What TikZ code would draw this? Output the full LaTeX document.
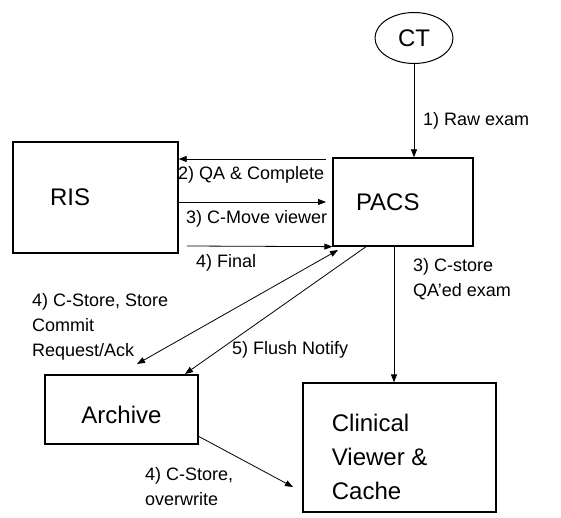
\documentclass[tikz,border=0pt]{standalone}
\usepackage{fontspec}
\setmainfont{Liberation Sans}
\usetikzlibrary{arrows.meta}
\usetikzlibrary{positioning}
\usetikzlibrary{shapes.geometric}
\tikzset{box/.style = {draw, line width=1.3pt, rectangle, inner ysep=0pt,
                       font=\fontsize{24}{34}\selectfont},
         flow/.style = {line width=0.8pt, -{Triangle[length=8pt,width=6pt]}},
         tag/.style = {inner sep=0pt, align=left, anchor=west,
                       font=\fontsize{18}{25}\selectfont}}

\begin{document}
\begin{tikzpicture}[x=1pt, y=-1pt]
    \useasboundingbox (0, 0) rectangle (561, 518);

    \node [draw, line width=1pt, ellipse, minimum width=78pt, minimum height=51pt,
           inner sep=0pt, font=\fontsize{24}{28}\selectfont] (ct) at (414, 38) {CT};
    \node [box, minimum width=140pt, minimum height=88pt, text width=94pt,
           inner xsep=23pt, align=left] (pacs) at (403, 202) {PACS};
    \node [box, minimum width=165pt, minimum height=111pt, text width=91pt,
           inner xsep=37pt, align=left] (ris) at (95.5, 197.5) {RIS};
    \node [box, minimum width=153pt, minimum height=69pt, text height=28pt,
           text depth=0pt] (archive) at (121.5, 409.5) {Archive};
    \node [box, minimum width=193pt, minimum height=129pt,
           label={[font=\fontsize{24}{34}\selectfont, align=left, anchor=west,
                   xshift=26pt, yshift=-9pt]west:Clinical\\Viewer \&\\Cache}]
           (viewer) at (399.5, 447.5) {};

    % free ends of the connectors
    \coordinate (qa) at (326, 159);
    \coordinate (move) at (326, 202);
    \coordinate (final) at (187, 246);
    \coordinate (commit) at (137, 364);
    \coordinate (commitend) at (338, 250);
    \coordinate (flush) at (367, 246);
    \coordinate (flushend) at (185, 374);
    \coordinate (cstore) at (394, 246);
    \coordinate (overwrite) at (198, 436);
    \coordinate (overwriteend) at (293, 487);

    \draw [flow] (ct.south) -- (ct.south |- pacs.north);
    \draw [flow] (qa) -- (qa -| ris.east);
    \draw [flow] (move -| ris.east) -- (move);
    \draw [flow] (final) -- (pacs.south west);
    \draw [flow, {Triangle[length=8pt,width=6pt]}-{Triangle[length=8pt,width=6pt]}] (commitend) -- (commit);
    \draw [flow] (flush) -- (flushend);
    \draw [flow] (cstore) -- (cstore |- viewer.north);
    \draw [flow] (overwrite) -- (overwriteend);

    \node [tag] (rawlbl) at (423, 121) {1) Raw exam};
    \node [tag] (qalbl) at (178, 175) {2) QA \& Complete};
    \node [tag] (movelbl) at (186, 219) {3) C-Move viewer};
    \node [tag] (finallbl) at (196, 263) {4) Final};
    \node [tag, anchor=north west] (cstorelbl) at (413, 258) {3) C-store\\QA'ed exam};
    \node [tag, anchor=north west] (commitlbl) at (32, 293) {4) C-Store, Store\\Commit\\Request/Ack};
    \node [tag] (flushlbl) at (232, 350) {5) Flush Notify};
    \node [tag, anchor=north west] (overwritelbl) at (145, 467) {4) C-Store,\\overwrite};
  \end{tikzpicture}
\end{document}
